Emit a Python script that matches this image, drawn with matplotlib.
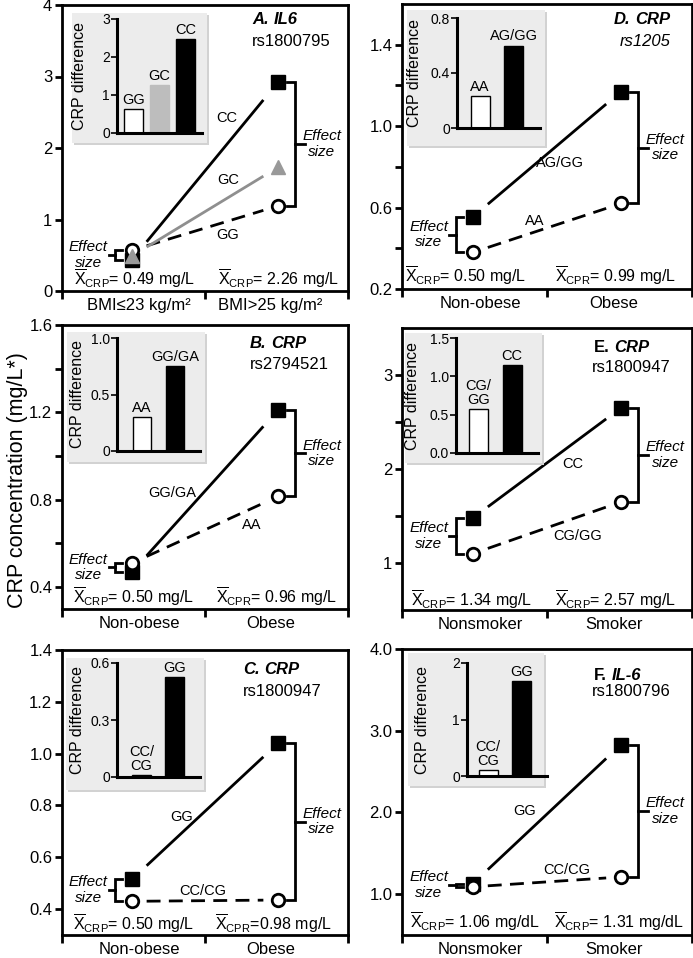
import matplotlib
matplotlib.use('Agg')
import matplotlib.pyplot as plt
import numpy as np

plt.rcParams['font.family'] = ['Liberation Sans', 'DejaVu Sans']
plt.rcParams['mathtext.fontset'] = 'custom'
plt.rcParams['mathtext.rm'] = 'Liberation Sans'
plt.rcParams['mathtext.it'] = 'Liberation Sans:italic'
plt.rcParams['mathtext.bf'] = 'Liberation Sans:bold'

W, H = 693, 958

# ---------------- data ----------------
A_groups = ['GG', 'GC', 'CC']
A_low = [0.57, 0.49, 0.44]
A_high = [1.19, 1.73, 2.92]
A_diff = [0.62, 1.27, 2.48]
A_cats = ['BMI≤23 kg/m²', 'BMI>25 kg/m²']
A_means = [('CRP', '= 0.49 mg/L'), ('CRP', '= 2.26 mg/L')]

D_groups = ['AA', 'AG/GG']
D_low = [0.38, 0.555]
D_high = [0.62, 1.17]
D_diff = [0.23, 0.60]
D_cats = ['Non-obese', 'Obese']
D_means = [('CRP', '= 0.50 mg/L'), ('CPR', '= 0.99 mg/L')]

B_groups = ['AA', 'GG/GA']
B_low = [0.51, 0.47]
B_high = [0.815, 1.21]
B_diff = [0.30, 0.75]
B_cats = ['Non-obese', 'Obese']
B_means = [('CRP', '= 0.50 mg/L'), ('CPR', '= 0.96 mg/L')]

E_groups = ['CG/GG', 'CC']
E_bar_labels = ['CG/\nGG', 'CC']
E_low = [1.10, 1.48]
E_high = [1.65, 2.65]
E_diff = [0.57, 1.15]
E_cats = ['Nonsmoker', 'Smoker']
E_means = [('CRP', '= 1.34 mg/L'), ('CRP', '= 2.57 mg/L')]

C_groups = ['CC/CG', 'GG']
C_bar_labels = ['CC/\nCG', 'GG']
C_low = [0.43, 0.515]
C_high = [0.435, 1.04]
C_diff = [0.01, 0.525]
C_cats = ['Non-obese', 'Obese']
C_means = [('CRP', '= 0.50 mg/L'), ('CPR', '=0.98 mg/L')]

F_groups = ['CC/CG', 'GG']
F_bar_labels = ['CC/\nCG', 'GG']
F_low = [1.09, 1.13]
F_high = [1.21, 2.83]
F_diff = [0.11, 1.68]
F_cats = ['Nonsmoker', 'Smoker']
F_means = [('CRP', '= 1.06 mg/dL'), ('CRP', '= 1.31 mg/dL')]

fig = plt.figure(figsize=(W / 100, H / 100), dpi=100)


def px_rect(l, t, r, b):
    return [l / W, 1 - b / H, (r - l) / W, (b - t) / H]


def fx(x):
    return x / W


def fy(y):
    return 1 - y / H


XL = (-0.48, 1.48)
BLACK = 'black'
GRAYLINE = '#8f8f8f'


def draw_panel(p):
    ax = fig.add_axes(px_rect(*p['main']))
    ax.set_xlim(*XL)
    ax.set_ylim(*p['ylim'])
    for s in ax.spines.values():
        s.set_linewidth(2)
    ax.set_yticks(p['yt'], p['ytl'])
    ax.set_yticks(p['ytm'], minor=True)
    ax.tick_params(axis='y', which='both', direction='out', length=5, width=2,
                   labelsize=12, pad=2)
    ax.set_xticks([XL[0], 0.5, XL[1]], ['', '', ''])
    ax.set_xticks([0.05, 0.95], p['cats'], minor=True)
    ax.tick_params(axis='x', which='major', direction='out', length=6, width=2)
    ax.tick_params(axis='x', which='minor', length=0, pad=5, labelsize=12)

    low, high = p['low'], p['high']
    styles = p['styles']
    t0, t1 = 0.1, 0.9
    # lines
    for i in range(len(low)):
        st = styles[i]
        xs = np.array([t0, t1])
        ys = low[i] + (high[i] - low[i]) * xs
        ax.plot(xs, ys, color=st['lc'], lw=2, ls=st['ls'], zorder=2,
                dash_capstyle='butt', solid_capstyle='butt')
    # markers: squares, then circles, then triangles
    order = {'s': 3, 'o': 4, '^': 5}
    for i in range(len(low)):
        st = styles[i]
        m = st['m']
        if m == 's':
            ax.plot([0, 1], [low[i], high[i]], ls='none', marker='s', ms=10,
                    mfc='black', mec='black', mew=1, zorder=order[m], clip_on=False)
        elif m == 'o':
            ax.plot([0, 1], [low[i], high[i]], ls='none', marker='o', ms=9,
                    mfc='white', mec='black', mew=2, zorder=order[m], clip_on=False)
        else:
            ax.plot([0, 1], [low[i], high[i]], ls='none', marker='^', ms=10,
                    mfc='#999999', mec='#999999', mew=1, zorder=order[m], clip_on=False)

    # effect size brackets
    top, bot = max(high), min(high)
    xb, xa, xt = 1.115, 1.06, 1.185
    ax.plot([xa, xb, xb, xa], [top, top, bot, bot], color='black', lw=2,
            solid_joinstyle='miter', zorder=2)
    mid = (top + bot) / 2
    ax.plot([xb, xt], [mid, mid], color='black', lw=2, zorder=2)
    ax.text(1.30, mid, 'Effect\nsize', style='italic', fontsize=11, ha='center',
            va='center', linespacing=1.15)

    top, bot = max(low), min(low)
    xb, xa, xt = -0.115, -0.07, -0.16
    ax.plot([xa, xb, xb, xa], [top, top, bot, bot], color='black', lw=2,
            solid_joinstyle='miter', zorder=2)
    mid = (top + bot) / 2
    ax.plot([xb, xt], [mid, mid], color='black', lw=2, zorder=2)
    ax.text(-0.30, mid, 'Effect\nsize', style='italic', fontsize=11, ha='center',
            va='center', linespacing=1.15)

    # line labels
    for lab, (cx, cy) in zip(p['groups'], p['line_lab_pos']):
        fig.text(fx(cx), fy(cy), lab, fontsize=10.5, ha='center', va='center')

    # means
    for (sub, val), (cx, cy) in zip(p['means'], p['mean_pos']):
        fig.text(fx(cx), fy(cy),
                 r'$\overline{\mathrm{X}}_{\mathrm{' + sub + r'}}$' + val,
                 fontsize=11.5, ha='left', va='center')

    # title
    (tx, ty1, ty2) = p['title_pos']
    pre, suf, pre_italic = p['title']
    t1 = fig.text(fx(tx), fy(ty1), pre, fontsize=12, weight='bold',
                  style='italic' if pre_italic else 'normal', ha='left', va='center')
    ax.annotate(suf, xy=(1, 0.5), xycoords=t1, xytext=(3.5, 0),
                textcoords='offset points', fontsize=12, weight='bold',
                style='italic', ha='left', va='center')
    fig.text(fx(p.get('rs_x', tx)), fy(ty2), p['rs'], fontsize=12,
             style=p.get('rs_style', 'normal'), ha='left', va='center')

    # inset
    bl, bt, br, bb = p['box']
    sh = fig.add_axes(px_rect(bl + 2, bt + 2, br + 2, bb + 2))
    sh.set_facecolor('#d2d2d2')
    bx = fig.add_axes(px_rect(bl, bt, br, bb))
    bx.set_facecolor('#ececec')
    for a in (sh, bx):
        a.set_xticks([])
        a.set_yticks([])
        for s in a.spines.values():
            s.set_visible(False)

    il, it, ir, ib = p['inset']
    ia = fig.add_axes(px_rect(il, it, ir, ib))
    ia.patch.set_alpha(0)
    ia.spines['top'].set_visible(False)
    ia.spines['right'].set_visible(False)
    ia.spines['left'].set_linewidth(2.2)
    ia.spines['bottom'].set_linewidth(2.2)
    ia.set_ylim(0, p['iyt'][-1])
    ia.set_yticks(p['iyt'], p['iytl'])
    ia.tick_params(axis='y', length=4, width=1.2, labelsize=10, pad=1)
    ia.set_xticks([])
    n = len(p['diff'])
    ia.set_xlim(*p['ixlim'])
    ia.bar(range(n), p['diff'], width=p['bw'], color=p['bar_colors'],
           edgecolor=p['bar_edges'], linewidth=1, zorder=2)
    for i in range(n):
        ia.annotate(p['bar_labels'][i], xy=(i, p['diff'][i]), xytext=(0, 1.5),
                    textcoords='offset points', ha='center', va='bottom',
                    fontsize=10.5, linespacing=1.0)
    ia.set_ylabel('CRP difference', fontsize=11.5)
    ia.yaxis.set_label_coords(-p.get('lab_off', 30) / (ir - il), 0.5)
    return ax


sty_dash = {'ls': (0, (5, 3)), 'lc': BLACK, 'm': 'o'}
sty_solid = {'ls': '-', 'lc': BLACK, 'm': 's'}
sty_gray = {'ls': '-', 'lc': GRAYLINE, 'm': '^'}

panels = [
    dict(main=(62, 5, 348, 291), ylim=(0, 4), yt=[0, 1, 2, 3, 4],
         ytl=['0', '1', '2', '3', '4'], ytm=[], cats=A_cats,
         low=A_low, high=A_high, groups=A_groups,
         styles=[sty_dash, sty_gray, sty_solid],
         line_lab_pos=[(228, 235), (228, 180), (227, 118)],
         means=A_means, mean_pos=[(74, 279), (218, 279)],
         title=('A.', 'IL6', True), title_pos=(252, 20, 41), rs='rs1800795',
         box=(72, 13, 207, 143), inset=(117, 19, 202, 133),
         iyt=[0, 1, 2, 3], iytl=['0', '1', '2', '3'], diff=A_diff,
         ixlim=(-0.63, 2.63), bw=0.73,
         bar_colors=['white', '#bdbdbd', 'black'],
         bar_edges=['black', '#bdbdbd', 'black'], bar_labels=A_groups),
    dict(main=(402, 4, 692, 289), ylim=(0.2, 1.6), yt=[0.2, 0.6, 1.0, 1.4],
         ytl=['0.2', '0.6', '1.0', '1.4'], ytm=[0.4, 0.8, 1.2], cats=D_cats,
         low=D_low, high=D_high, groups=D_groups,
         styles=[sty_dash, sty_solid],
         line_lab_pos=[(535, 221), (560, 163)],
         means=D_means, mean_pos=[(405, 276), (555, 276)],
         title=('D.', 'CRP', True), title_pos=(614, 19, 41), rs='rs1205',
         rs_x=620, rs_style='italic',
         box=(407, 10, 545, 146), inset=(457, 18, 540, 128), lab_off=35,
         iyt=[0, 0.4, 0.8], iytl=['0', '0.4', '0.8'], diff=D_diff,
         ixlim=(-0.69, 1.79), bw=0.57,
         bar_colors=['white', 'black'], bar_edges=['black', 'black'],
         bar_labels=D_groups),
    dict(main=(62, 325, 348, 609), ylim=(0.3, 1.6), yt=[0.4, 0.8, 1.2, 1.6],
         ytl=['0.4', '0.8', '1.2', '1.6'], ytm=[0.6, 1.0, 1.4], cats=B_cats,
         low=B_low, high=B_high, groups=B_groups,
         styles=[sty_dash, sty_solid],
         line_lab_pos=[(252, 525), (172, 493)],
         means=B_means, mean_pos=[(73, 597), (216, 597)],
         title=('B.', 'CRP', True), title_pos=(250, 343, 364), rs='rs2794521',
         box=(67, 332, 205, 462), inset=(117, 338, 200, 451), lab_off=32,
         iyt=[0, 0.5, 1.0], iytl=['0', '0.5', '1.0'], diff=B_diff,
         ixlim=(-0.76, 1.76), bw=0.57,
         bar_colors=['white', 'black'], bar_edges=['black', 'black'],
         bar_labels=B_groups),
    dict(main=(402, 328, 692, 610), ylim=(0.5, 3.5), yt=[1, 2, 3],
         ytl=['1', '2', '3'], ytm=[1.5, 2.5], cats=E_cats,
         low=E_low, high=E_high, groups=E_groups,
         styles=[sty_dash, sty_solid],
         line_lab_pos=[(578, 536), (573, 464)],
         means=E_means, mean_pos=[(411, 600), (555, 600)],
         title=('E.', 'CRP', False), title_pos=(594, 347, 367), rs='rs1800947',
         rs_x=592,
         box=(405, 333, 542, 463), inset=(456, 338, 538, 453), lab_off=36,
         iyt=[0, 0.5, 1.0, 1.5], iytl=['0.0', '0.5', '1.0', '1.5'], diff=E_diff,
         ixlim=(-0.66, 1.76), bw=0.57,
         bar_colors=['white', 'black'], bar_edges=['black', 'black'],
         bar_labels=E_bar_labels),
    dict(main=(62, 650, 348, 935), ylim=(0.3, 1.4),
         yt=[0.4, 0.6, 0.8, 1.0, 1.2, 1.4],
         ytl=['0.4', '0.6', '0.8', '1.0', '1.2', '1.4'], ytm=[], cats=C_cats,
         low=C_low, high=C_high, groups=C_groups,
         styles=[sty_dash, sty_solid],
         line_lab_pos=[(203, 891), (182, 817)],
         means=C_means, mean_pos=[(73, 924), (215, 924)],
         title=('C.', 'CRP', True), title_pos=(243, 670, 691), rs='rs1800947',
         box=(66, 658, 204, 790), inset=(117, 663, 200, 777), lab_off=32,
         iyt=[0, 0.3, 0.6], iytl=['0', '0.3', '0.6'], diff=C_diff,
         ixlim=(-0.73, 1.75), bw=0.57,
         bar_colors=['white', 'black'], bar_edges=['black', 'black'],
         bar_labels=C_bar_labels),
    dict(main=(402, 649, 692, 935), ylim=(0.5, 4.0), yt=[1.0, 2.0, 3.0, 4.0],
         ytl=['1.0', '2.0', '3.0', '4.0'], ytm=[], cats=F_cats,
         low=F_low, high=F_high, groups=F_groups,
         styles=[sty_dash, sty_solid],
         line_lab_pos=[(567, 870), (525, 811)],
         means=F_means, mean_pos=[(410, 922), (554, 922)],
         title=('F.', 'IL-6', False), title_pos=(594, 675, 692), rs='rs1800796',
         rs_x=592,
         box=(408, 653, 544, 786), inset=(467, 663, 547, 776), lab_off=37,
         iyt=[0, 1, 2], iytl=['0', '1', '2'], diff=F_diff,
         ixlim=(-0.63, 1.76), bw=0.57,
         bar_colors=['white', 'black'], bar_edges=['black', 'black'],
         bar_labels=F_bar_labels),
]

for p in panels:
    draw_panel(p)

fig.text(fx(18), fy(480), 'CRP concentration (mg/L*)', rotation=90,
         fontsize=15.5, ha='center', va='center')

fig.savefig('out.png', dpi=100)
